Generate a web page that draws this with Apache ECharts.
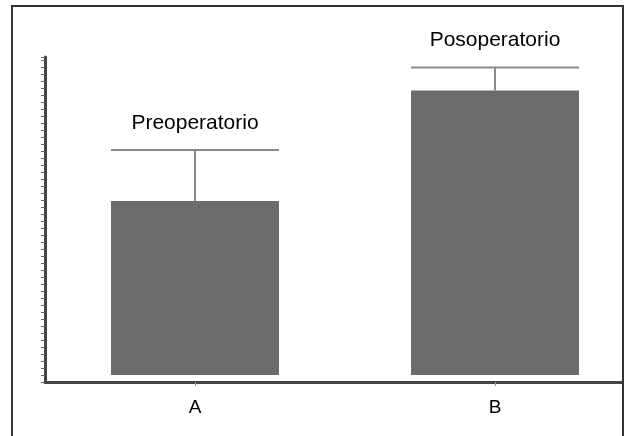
<!DOCTYPE html>
<html>
<head>
<meta charset="utf-8">
<script src="https://cdn.jsdelivr.net/npm/echarts@6/dist/echarts.min.js"></script>
<style>html,body{margin:0;padding:0;background:#fff}#c{width:628px;height:436px}</style>
</head>
<body>
<div id="c"></div>
<script>
const categories = ['A', 'B'];
const groupNames = ['Preoperatorio', 'Posoperatorio'];
const means = [24.9, 40.7];
const errorTops = [32.2, 44.0];

const chart = echarts.init(document.getElementById('c'), null, {renderer: 'canvas'});
const errData = categories.map((c, i) => [i, means[i], errorTops[i], groupNames[i]]);

chart.setOption({
  animation: false,
  backgroundColor: '#ffffff',
  grid: {left: 45, width: 600, top: 57, bottom: 54, containLabel: false, outerBoundsMode: 'none'},
  xAxis: {
    type: 'category',
    data: categories,
    axisLine: {onZero: false, lineStyle: {color: '#444', width: 3}},
    axisTick: {show: true, alignWithLabel: true, length: 4, lineStyle: {color: '#999', width: 1}},
    axisLabel: {color: '#000', fontSize: 19, fontFamily: 'Liberation Sans, Arial', margin: 16}
  },
  yAxis: {
    type: 'value',
    min: -1,
    max: 45.5,
    interval: 1,
    axisLine: {show: true, lineStyle: {color: '#444', width: 3}},
    axisTick: {show: true, length: 4, lineStyle: {color: '#666', width: 1}},
    axisLabel: {show: false},
    splitLine: {show: false}
  },
  series: [
    {
      type: 'bar',
      data: means,
      barWidth: '56%',
      itemStyle: {color: '#6c6c6c'},
      z: 2
    },
    {
      type: 'custom',
      data: errData,
      z: 3,
      renderItem: function (params, api) {
        const x = api.value(0);
        const top = api.coord([x, api.value(1)]);
        const hi = api.coord([x, api.value(2)]);
        const w = api.size([1, 0])[0] * 0.56;
        return {
          type: 'group',
          children: [
            {type: 'line', shape: {x1: top[0], y1: top[1], x2: hi[0], y2: hi[1]},
             style: {stroke: '#8a8a8a', lineWidth: 2}},
            {type: 'line', shape: {x1: hi[0] - w / 2, y1: hi[1], x2: hi[0] + w / 2, y2: hi[1]},
             style: {stroke: '#8a8a8a', lineWidth: 2}},
            {type: 'text', x: hi[0], y: hi[1] - 27,
             style: {text: api.value(3), fill: '#000', fontSize: 21, fontFamily: 'Liberation Sans, Arial',
                     align: 'center', verticalAlign: 'middle'}}
          ]
        };
      }
    }
  ],
  graphic: [
    {type: 'rect', z: 100, shape: {x: 624, y: 0, width: 30, height: 436}, style: {fill: '#fff'}},
    {type: 'rect', z: 101, shape: {x: 12, y: 6, width: 611, height: 450},
     style: {fill: 'none', stroke: '#333', lineWidth: 2}}
  ]
});
</script>
</body>
</html>
